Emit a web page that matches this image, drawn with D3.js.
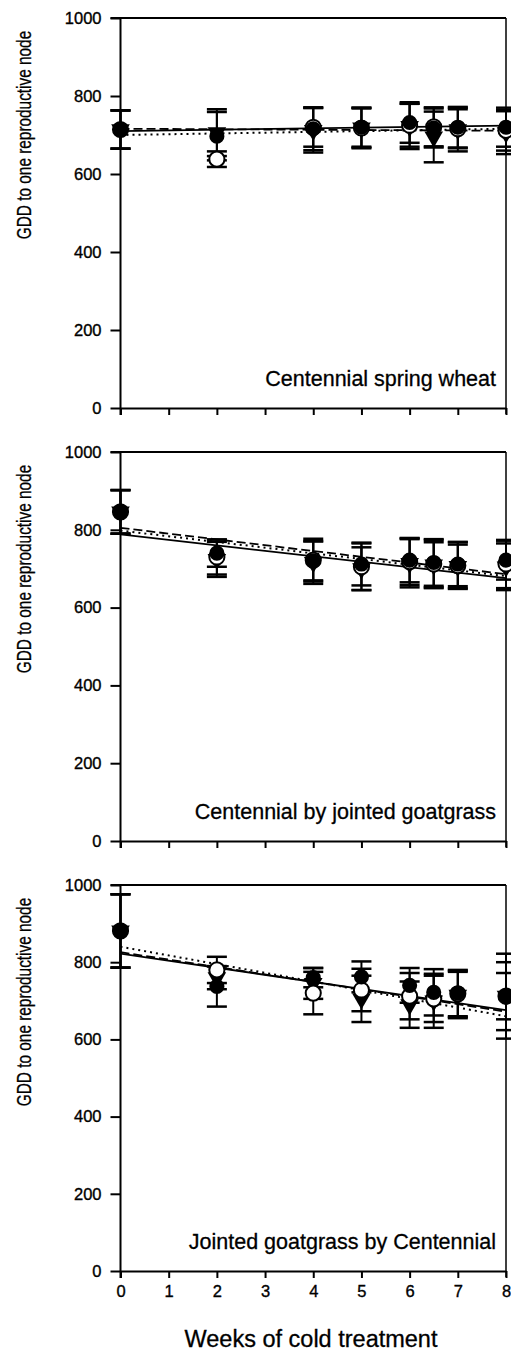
<!doctype html>
<html>
<head>
<meta charset="utf-8">
<style>
  body { margin: 0; background: #fff; }
  svg { display: block; font-family: Arial, "Liberation Sans", sans-serif; }
  .axis path, .axis line { stroke: #000; stroke-width: 2; }
  .axis text { font-size: 16.5px; fill: #000; stroke: #000; stroke-width: 0.35; }
</style>
<script src="https://d3js.org/d3.v7.min.js"></script>
</head>
<body>
<svg id="chart" width="511" height="1356"></svg>
<script>
// weeks of cold treatment (x positions of the measured points)
var weeks = [0, 2, 4, 5, 6, 6.5, 7, 8];
var xTicks = [0, 1, 2, 3, 4, 5, 6, 7, 8];
var yTicks = [0, 200, 400, 600, 800, 1000];
var panelTitles = ["Centennial spring wheat", "Centennial by jointed goatgrass", "Jointed goatgrass by Centennial"];

// panel 1 - Centennial spring wheat
var wheatFilled    = [714, 697, 716, 720, 732, 718, 720, 720];
var wheatFilledErr = [49, 62, 55, 50, 52, 50, 52, 50];
var wheatOpen      = [714, 638, 720, 718, 725, 721, 716, 712];
var wheatOpenErr   = [49, 20, 50, 50, 55, 50, 50, 52];
var wheatTri       = [714, 706, 712, 718, 722, 695, 714, 706];
var wheatTriErr    = [49, 60, 57, 52, 58, 65, 56, 55];
var wheatFits      = [[710, 724], [700, 716], [716, 711]]; // solid, dotted, dashed (value at week 0 and 8)

// panel 2 - Centennial by jointed goatgrass
var cxjFilled    = [846, 740, 720, 712, 722, 716, 712, 722];
var cxjFilledErr = [56, 35, 50, 55, 57, 60, 57, 50];
var cxjOpen      = [846, 730, 722, 705, 718, 712, 708, 712];
var cxjOpenErr   = [56, 45, 55, 60, 60, 62, 60, 62];
var cxjTri       = [846, 724, 716, 700, 714, 710, 706, 705];
var cxjTriErr    = [56, 45, 55, 55, 62, 58, 56, 60];
var cxjFits      = [[788, 676], [798, 681], [805, 686]];

// panel 3 - Jointed goatgrass by Centennial
var jxcFilled    = [881, 737, 760, 762, 740, 722, 720, 712];
var jxcFilledErr = [95, 52, 25, 40, 45, 60, 60, 60];
var jxcOpen      = [881, 780, 720, 728, 712, 705, 718, 712];
var jxcOpenErr   = [95, 34, 55, 55, 60, 60, 60, 110];
var jxcTri       = [881, 760, 745, 705, 690, 700, 715, 712];
var jxcTriErr    = [95, 30, 40, 60, 60, 70, 60, 88];
var jxcFits      = [[822, 676], [840, 660], [826, 672]];

var panels = [
  {top: 18,  bottom: 408,  series: [[wheatFilled, wheatFilledErr], [wheatOpen, wheatOpenErr], [wheatTri, wheatTriErr]], fits: wheatFits},
  {top: 452, bottom: 841,  series: [[cxjFilled, cxjFilledErr], [cxjOpen, cxjOpenErr], [cxjTri, cxjTriErr]], fits: cxjFits},
  {top: 885, bottom: 1271, series: [[jxcFilled, jxcFilledErr], [jxcOpen, jxcOpenErr], [jxcTri, jxcTriErr]], fits: jxcFits}
];

var svg = d3.select("#chart");
var left = 120.5, right = 506;
var x = d3.scaleLinear().domain([0, 8]).range([left, right]);

var fitDash = [null, "2,4", "9,4"];
var circleSym = d3.symbol().type(d3.symbolCircle).size(180);
var triSym = d3.symbol().type(d3.symbolTriangle).size(150);

panels.forEach(function(p, pi) {
  var y = d3.scaleLinear().domain([0, 1000]).range([p.bottom, p.top]);
  var g = svg.append("g");

  // frame: top and right
  g.append("line").attr("x1", left - 10).attr("x2", right).attr("y1", y(1000)).attr("y2", y(1000))
    .attr("stroke", "#000").attr("stroke-width", 2);
  g.append("line").attr("x1", right).attr("x2", right).attr("y1", y(1000)).attr("y2", y(0) + 6)
    .attr("stroke", "#000").attr("stroke-width", 1.5);

  g.append("g").attr("class", "axis")
    .attr("transform", "translate(" + left + ",0)")
    .call(d3.axisLeft(y).tickValues(yTicks).tickFormat(d3.format("d"))
      .tickSize(10).tickPadding(9).tickSizeOuter(0))
    .select(".domain").attr("d", "M0," + y(1000) + "V" + (y(0) + 7));

  var xa = g.append("g").attr("class", "axis")
    .attr("transform", "translate(0," + y(0) + ")")
    .call(d3.axisBottom(x).tickValues(xTicks).tickSize(7).tickPadding(7).tickSizeOuter(0));
  if (pi < 2) xa.selectAll("text").remove();

  // y title, squeezed along its length like the original
  g.append("text")
    .attr("transform", "translate(31," + (p.top + 117) + ") rotate(-90) scale(0.75,1)")
    .attr("text-anchor", "middle")
    .attr("font-size", "20.5px")
    .attr("stroke", "#000").attr("stroke-width", 0.3)
    .text("GDD to one reproductive node");

  // panel title
  g.append("text")
    .attr("x", 496).attr("y", y(0) - 22)
    .attr("text-anchor", "end")
    .attr("font-size", "21.5px")
    .attr("stroke", "#000").attr("stroke-width", 0.3)
    .text(panelTitles[pi]);

  // error bars
  p.series.forEach(function(s) {
    var vals = s[0], errs = s[1];
    var eb = g.append("g").attr("stroke", "#000").attr("stroke-width", 2);
    weeks.forEach(function(w, i) {
      var xi = x(w), hi = y(vals[i] + errs[i]), lo = y(vals[i] - errs[i]);
      eb.append("line").attr("x1", xi).attr("x2", xi).attr("y1", hi).attr("y2", lo);
      eb.append("line").attr("x1", xi - 10).attr("x2", xi + 10).attr("y1", hi).attr("y2", hi).attr("stroke-width", 2.5);
      eb.append("line").attr("x1", xi - 10).attr("x2", xi + 10).attr("y1", lo).attr("y2", lo).attr("stroke-width", 2.5);
    });
  });

  // regression lines
  p.fits.forEach(function(f, fi) {
    g.append("line")
      .attr("x1", x(0)).attr("y1", y(f[0]))
      .attr("x2", x(8)).attr("y2", y(f[1]))
      .attr("stroke", "#000").attr("stroke-width", fi === 1 ? 2 : 1.8)
      .attr("stroke-dasharray", fitDash[fi]);
  });

  // markers: triangles, open circles, filled circles
  var tri = p.series[2][0];
  g.selectAll(".tri").data(weeks).enter().append("path")
    .attr("d", triSym)
    .attr("transform", function(w, i) { return "translate(" + x(w) + "," + y(tri[i]) + ") rotate(180)"; })
    .attr("fill", "#000");
  var open = p.series[1][0];
  g.selectAll(".open").data(weeks).enter().append("path")
    .attr("d", circleSym)
    .attr("transform", function(w, i) { return "translate(" + x(w) + "," + y(open[i]) + ")"; })
    .attr("fill", "#fff").attr("stroke", "#000").attr("stroke-width", 2);
  var filled = p.series[0][0];
  g.selectAll(".filled").data(weeks).enter().append("path")
    .attr("d", circleSym)
    .attr("transform", function(w, i) { return "translate(" + x(w) + "," + y(filled[i]) + ")"; })
    .attr("fill", "#000");
});

svg.append("text")
  .attr("x", 311).attr("y", 1347)
  .attr("text-anchor", "middle")
  .attr("font-size", "23.5px")
  .attr("stroke", "#000").attr("stroke-width", 0.3)
  .text("Weeks of cold treatment");
</script>
</body>
</html>
